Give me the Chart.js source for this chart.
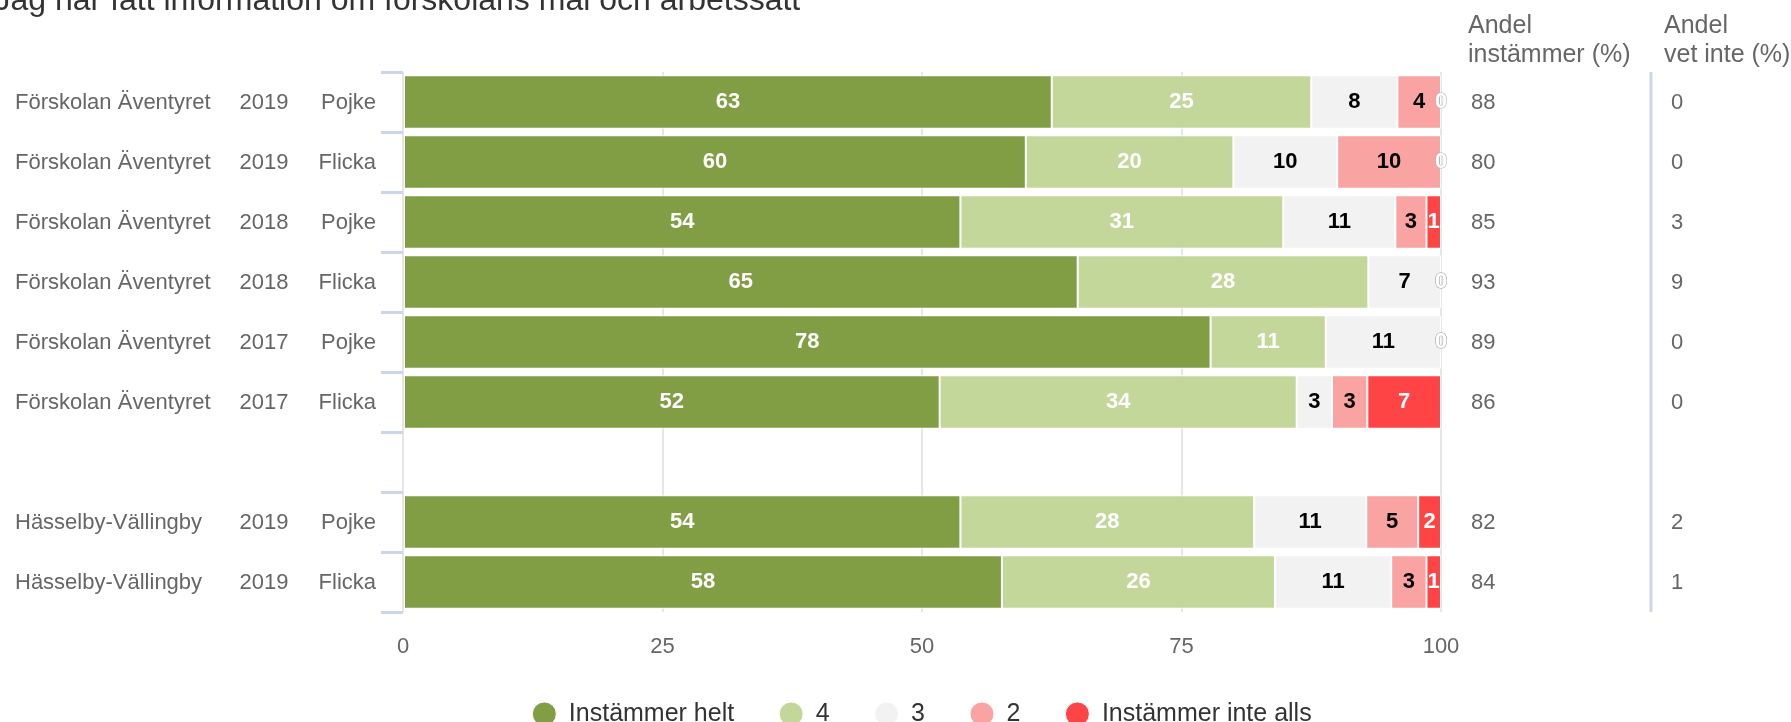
<!DOCTYPE html>
<html lang="sv">
<head>
<meta charset="utf-8">
<title>Jag har fått information om förskolans mål och arbetssätt</title>
<script src="https://cdn.jsdelivr.net/npm/chart.js@4.4.1/dist/chart.umd.min.js"></script>
<style>
    html, body { margin: 0; padding: 0; background: #fff; }
</style>
</head>
<body>
<canvas id="diagram" width="1791" height="722"></canvas>
<script>
// --- DATA (andelar i procent, avlästa ur staplarna) ---
const skolor = ['Förskolan Äventyret', 'Förskolan Äventyret', 'Förskolan Äventyret', 'Förskolan Äventyret', 'Förskolan Äventyret', 'Förskolan Äventyret', '', 'Hässelby-Vällingby', 'Hässelby-Vällingby'];
const artal = ['2019', '2019', '2018', '2018', '2017', '2017', '', '2019', '2019'];
const kon = ['Pojke', 'Flicka', 'Pojke', 'Flicka', 'Pojke', 'Flicka', '', 'Pojke', 'Flicka'];

const instammerHelt = [62.5, 60, 53.7, 65, 77.8, 51.7, null, 53.7, 57.7];
const fyra = [25, 20, 31.1, 28, 11.1, 34.4, null, 28.3, 26.3];
const tre = [8.3, 10, 10.8, 7, 11.1, 3.4, null, 10.8, 11.2];
const tva = [4.2, 10, 3, 0, 0, 3.4, null, 5, 3.4];
const instammerInteAlls = [0, 0, 1.4, 0, 0, 7.1, null, 2.2, 1.4];

const andelInstammer = [88, 80, 85, 93, 89, 86, null, 82, 84];
const andelVetInte = [0, 0, 3, 9, 0, 0, null, 2, 1];

const serieNamn = ['Instämmer helt', '4', '3', '2', 'Instämmer inte alls'];
const serieFarger = ['#819e44', '#c4d79b', '#f2f2f2', '#faa3a3', '#fe4444'];
const etikettFarger = ['#ffffff', '#ffffff', '#000000', '#000000', '#ffffff'];
const xTicks = [0, 25, 50, 75, 100];

const titel = 'Jag har fått information om förskolans mål och arbetssätt';
const rubrikInstammer = ['Andel', 'instämmer (%)'];
const rubrikVetInte = ['Andel', 'vet inte (%)'];

const FONT = '"Liberation Sans", Arial, sans-serif';
const serier = [instammerHelt, fyra, tre, tva, instammerInteAlls];

// --- TEXTER: värdeetiketter, radetiketter, kolumner till höger ---
const textPlugin = {
    id: 'texter',
    afterDatasetsDraw(chart) {
        const ctx = chart.ctx;
        ctx.save();
        ctx.font = 'bold 22px ' + FONT;
        ctx.textAlign = 'center';
        ctx.textBaseline = 'middle';
        chart.data.datasets.forEach((ds, di) => {
            const meta = chart.getDatasetMeta(di);
            meta.data.forEach((bar, i) => {
                const v = serier[di][i];
                if (v === null || v === undefined) return;
                const cx = (bar.x + bar.base) / 2;
                const text = String(Math.round(v));
                if (v === 0) {
                    ctx.lineWidth = 1;
                    ctx.strokeStyle = '#b0b0b0';
                    ctx.strokeText(text, cx, bar.y);
                    ctx.fillStyle = '#ffffff';
                    ctx.fillText(text, cx, bar.y);
                } else {
                    ctx.fillStyle = etikettFarger[di];
                    ctx.fillText(text, cx, bar.y);
                }
            });
        });
        ctx.restore();
    },
    afterDraw(chart) {
        const ctx = chart.ctx;
        const yAxel = chart.scales.y;
        const yta = chart.chartArea;
        ctx.save();

        // titel, delvis utanför kanten precis som i originalet
        ctx.fillStyle = '#333333';
        ctx.font = '32px ' + FONT;
        ctx.textAlign = 'left';
        ctx.textBaseline = 'alphabetic';
        ctx.fillText(titel, -5.5, 10);

        // kolumnrubriker till höger
        ctx.fillStyle = '#666666';
        ctx.font = '25px ' + FONT;
        rubrikInstammer.forEach((rad, k) => ctx.fillText(rad, 1468, 33 + k * 29));
        rubrikVetInte.forEach((rad, k) => ctx.fillText(rad, 1664, 33 + k * 29));

        // avdelare mellan kolumnerna
        ctx.strokeStyle = '#ccd6eb';
        ctx.lineWidth = 3;
        ctx.beginPath();
        ctx.moveTo(1651, yta.top);
        ctx.lineTo(1651, yta.bottom);
        ctx.stroke();

        // radetiketter och värden
        ctx.font = '22px ' + FONT;
        ctx.textBaseline = 'middle';
        skolor.forEach((namn, i) => {
            const y = yAxel.getPixelForValue(i) + 1;
            ctx.fillStyle = '#666666';
            ctx.textAlign = 'left';
            ctx.fillText(namn, 15, y);
            ctx.textAlign = 'center';
            ctx.fillText(artal[i], 264, y);
            ctx.textAlign = 'right';
            ctx.fillText(kon[i], 376, y);
            if (andelInstammer[i] !== null) {
                ctx.textAlign = 'left';
                ctx.fillText(String(andelInstammer[i]), 1471, y);
                ctx.textAlign = 'center';
                ctx.fillText(String(andelVetInte[i]), 1677, y);
            }
        });
        ctx.restore();
    }
};

// --- DIAGRAM ---
const ctx = document.getElementById('diagram').getContext('2d');
new Chart(ctx, {
    type: 'bar',
    data: {
        labels: skolor.map((s, i) => [s, artal[i], kon[i]].join(' ').trim()),
        datasets: serier.map((serie, di) => ({
            label: serieNamn[di],
            data: serie,
            backgroundColor: serieFarger[di],
            borderColor: '#ffffff',
            borderWidth: 1,
            borderSkipped: false,
            barPercentage: 0.89,
            categoryPercentage: 1
        }))
    },
    options: {
        indexAxis: 'y',
        responsive: false,
        animation: false,
        layout: { padding: { left: 381, right: 350, top: 72, bottom: -14.5 } },
        scales: {
            x: {
                stacked: true,
                min: 0,
                max: 100,
                afterBuildTicks: axel => { axel.ticks = xTicks.map(v => ({ value: v })); },
                afterFit: axel => { axel.height = 44.5; },
                grid: { color: '#e6e6e6', lineWidth: 2, drawTicks: false },
                border: { display: false },
                ticks: { color: '#666666', font: { size: 22, family: FONT }, padding: 22 }
            },
            y: {
                stacked: true,
                grid: { drawOnChartArea: false, drawTicks: true, tickLength: 22, tickColor: '#ccd6eb', tickWidth: 3 },
                border: { display: false },
                ticks: { display: false }
            }
        },
        plugins: {
            legend: {
                position: 'bottom',
                fullSize: false,
                labels: {
                    usePointStyle: true,
                    pointStyle: 'circle',
                    boxHeight: 17,
                    pointStyleWidth: 24,
                    padding: 45,
                    color: '#333333',
                    font: { size: 25, family: FONT }
                }
            },
            tooltip: { enabled: false }
        }
    },
    plugins: [textPlugin]
});
</script>
</body>
</html>
